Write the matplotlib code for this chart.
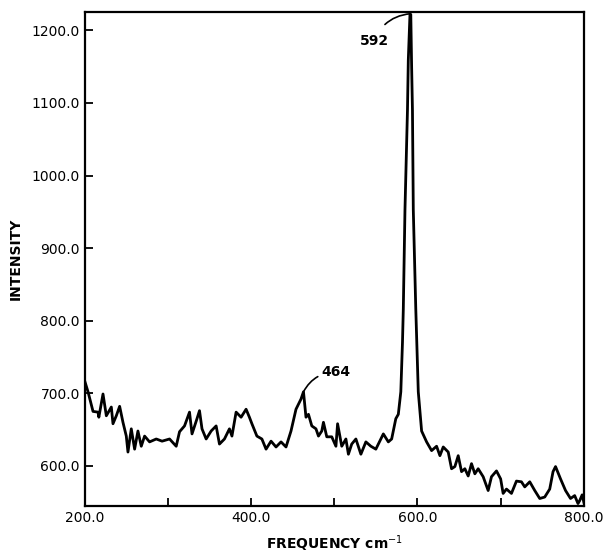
import matplotlib.pyplot as plt
from matplotlib.ticker import MultipleLocator, FormatStrFormatter

# Raman spectrum
freq = [200, 204, 210, 216, 217, 222, 226, 232, 234, 238, 242, 246, 250, 252, 256,
        260, 264, 268, 272, 278, 286, 293, 302, 310, 314, 320, 326, 329, 335, 338,
        341, 346, 352, 358, 362, 368, 374, 377, 382, 388, 394, 398, 401, 407, 413,
        418, 424, 430, 436, 442, 448, 454, 460, 463, 466, 469, 473, 478, 481, 485,
        487, 491, 497, 502, 504, 509, 514, 517, 521, 526, 532, 538, 544, 550, 556,
        559, 565, 569, 574, 577, 580, 582, 583, 585, 588, 589, 591, 592, 593, 594,
        595, 598, 601, 605, 611, 617, 623, 627, 631, 637, 641, 645, 649, 653, 657,
        661, 665, 669, 673, 679, 685, 689, 695, 700, 703, 707, 713, 719, 725, 729,
        735, 741, 747, 753, 759, 763, 766, 772, 778, 784, 789, 793, 795, 798, 800]
intensity = [717, 702, 675, 674, 667, 699, 669, 681, 658, 669, 682, 660, 641, 619, 651,
             623, 648, 627, 641, 633, 637, 634, 637, 627, 647, 655, 674, 644, 665, 676,
             651, 637, 648, 655, 630, 637, 651, 641, 674, 667, 678, 667, 658, 641, 637,
             623, 634, 626, 633, 626, 648, 678, 692, 702, 667, 671, 655, 651, 641, 648,
             660, 640, 640, 627, 658, 627, 637, 616, 630, 637, 616, 633, 627, 623, 637,
             644, 633, 637, 665, 671, 702, 770, 816, 953, 1090, 1159, 1222, 1222, 1150, 1090,
             953, 816, 702, 648, 633, 621, 627, 614, 626, 619, 596, 599, 614, 592, 596,
             586, 603, 589, 596, 585, 566, 585, 593, 582, 562, 568, 562, 579, 578, 571,
             578, 566, 555, 557, 568, 592, 599, 582, 566, 555, 559, 548, 552, 560, 550]

fig = plt.figure(figsize=(6.05, 5.57), dpi=100)
ax = fig.add_axes([0.140, 0.092, 0.825, 0.886])

ax.plot(freq, intensity, color='black', lw=2.0)

ax.set_xlim(200, 800)
ax.set_ylim(545, 1225)
ax.xaxis.set_major_locator(MultipleLocator(200))
ax.xaxis.set_minor_locator(MultipleLocator(100))
ax.xaxis.set_major_formatter(FormatStrFormatter('%.1f'))
ax.yaxis.set_major_formatter(FormatStrFormatter('%.1f'))
ax.set_yticks([600, 700, 800, 900, 1000, 1100, 1200])
ax.tick_params(which='both', direction='in', length=6, width=1.3, labelsize=10)
for s in ax.spines.values():
    s.set_linewidth(1.6)

ax.set_xlabel('FREQUENCY cm$^{-1}$', fontsize=10, fontweight='bold', labelpad=6)
ax.set_ylabel('INTENSITY', fontsize=10, fontweight='bold', labelpad=6)

ax.annotate('592', xy=(591.5, 1223), xytext=(548, 1186), fontsize=10,
            fontweight='bold', ha='center', va='center',
            arrowprops=dict(arrowstyle='-', lw=1.2, color='black',
                            shrinkA=6, shrinkB=0,
                            connectionstyle='arc3,rad=-0.3'))
ax.annotate('464', xy=(463, 702), xytext=(485, 729), fontsize=10,
            fontweight='bold', ha='left', va='center',
            arrowprops=dict(arrowstyle='-', lw=1.2, color='black',
                            shrinkA=1, shrinkB=0,
                            connectionstyle='arc3,rad=0.3'))

fig.savefig('out.png', dpi=100)
